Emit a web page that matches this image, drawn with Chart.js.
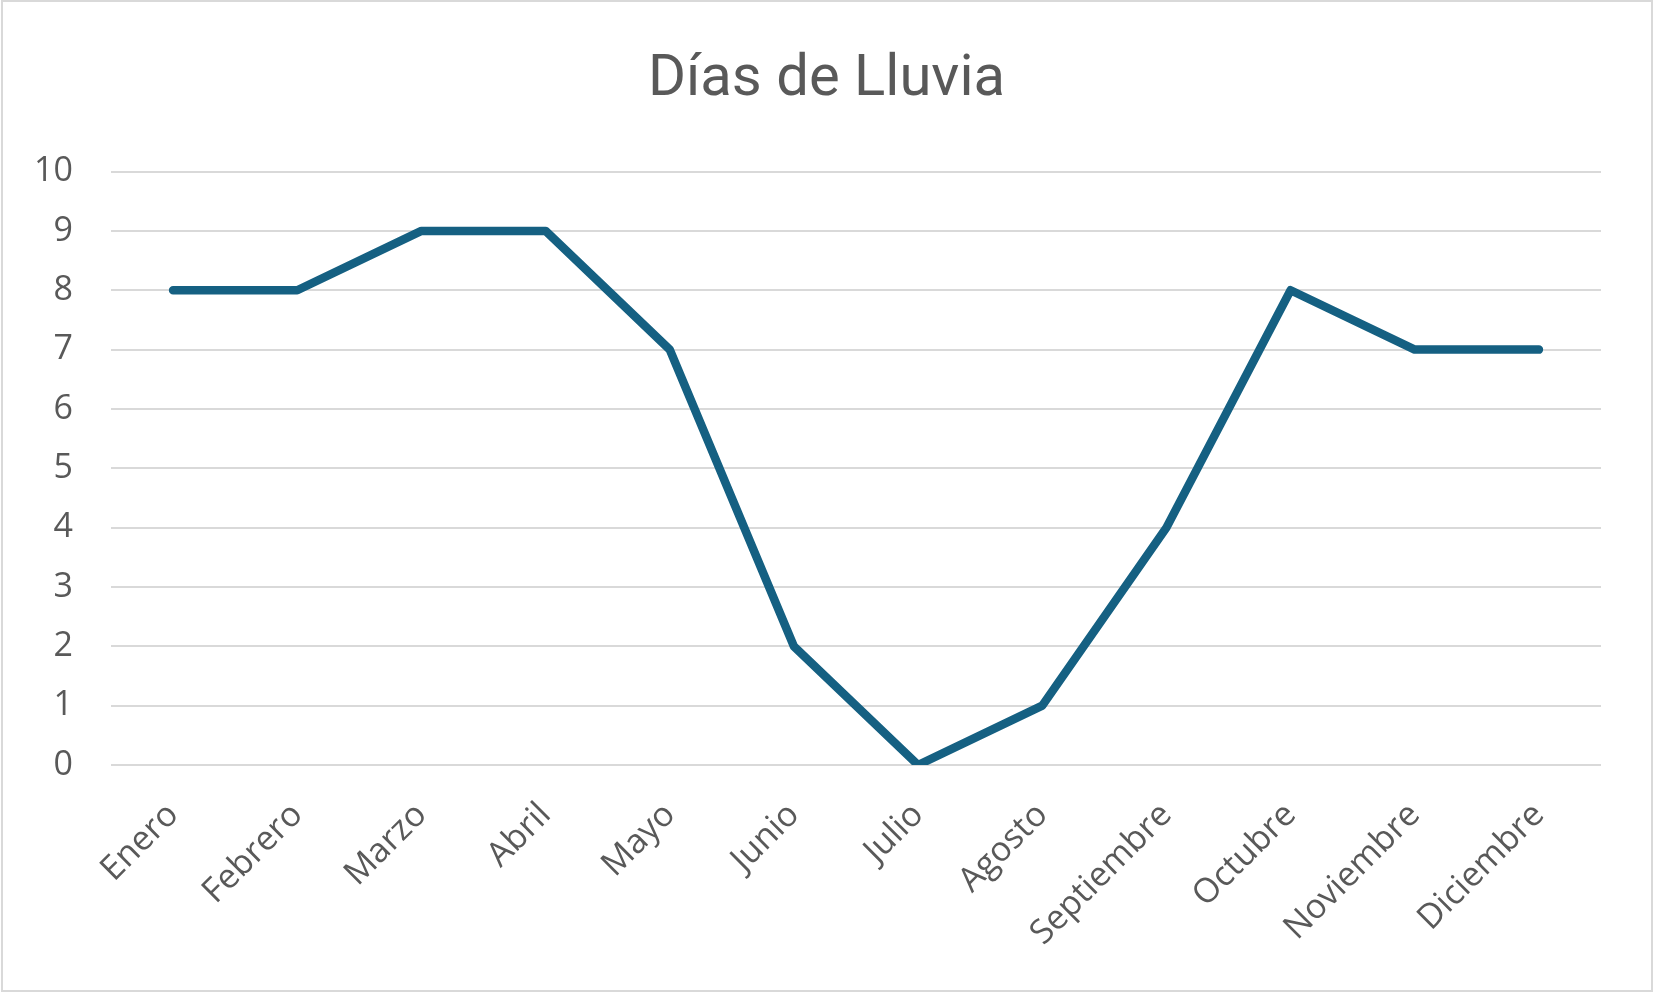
<!DOCTYPE html>
<html lang="es">
<head>
<meta charset="utf-8">
<title>Días de Lluvia</title>
<script src="https://cdn.jsdelivr.net/npm/chart.js@4/dist/chart.umd.min.js"></script>
<style>
    html, body { margin: 0; padding: 0; background: #ffffff; }
    #wrap { width: 1653px; height: 993px; position: relative; }
</style>
</head>
<body>
<div id="wrap"><canvas id="rainChart" width="1653" height="993"></canvas></div>
<script>
// Datos del gráfico
const chartTitle = 'Días de Lluvia';
const months = [
    'Enero', 'Febrero', 'Marzo', 'Abril', 'Mayo', 'Junio',
    'Julio', 'Agosto', 'Septiembre', 'Octubre', 'Noviembre', 'Diciembre'
];
const rainyDays = [8, 8, 9, 9, 7, 2, 0, 1, 4, 8, 7, 7];
const yTicks = [0, 1, 2, 3, 4, 5, 6, 7, 8, 9, 10];

const textColor = '#595959';
const gridColor = '#d9d9d9';
const lineColor = '#156082';

// white background, light grey frame, and title centred on the whole canvas
const framePlugin = {
    id: 'frame',
    afterLayout(chart) {
        const tb = chart.titleBlock;
        if (tb) {
            tb.left = 0;
            tb.right = chart.width;
            tb.width = chart.width;
        }
    },
    beforeDraw(chart) {
        const ctx = chart.ctx;
        ctx.save();
        ctx.fillStyle = '#ffffff';
        ctx.fillRect(0, 0, chart.width, chart.height);
        ctx.restore();
    },
    afterDraw(chart) {
        const ctx = chart.ctx;
        ctx.save();
        ctx.strokeStyle = gridColor;
        ctx.lineWidth = 2;
        ctx.strokeRect(2, 1, chart.width - 3, chart.height - 3);
        ctx.restore();
    }
};

document.addEventListener('DOMContentLoaded', () => {
    const ctx = document.getElementById('rainChart').getContext('2d');
    new Chart(ctx, {
        type: 'line',
        data: {
            labels: months,
            datasets: [{
                label: chartTitle,
                data: rainyDays,
                borderColor: lineColor,
                backgroundColor: lineColor,
                borderWidth: 8.5,
                borderCapStyle: 'round',
                borderJoinStyle: 'round',
                pointRadius: 0,
                tension: 0,
                fill: false
            }]
        },
        options: {
            responsive: false,
            animation: false,
            devicePixelRatio: 1,
            layout: {
                padding: { left: 0, right: 52, top: 0, bottom: 0 }
            },
            plugins: {
                legend: { display: false },
                tooltip: { enabled: false },
                title: {
                    display: true,
                    text: chartTitle,
                    color: textColor,
                    font: { family: 'Roboto', size: 58, weight: 'normal', lineHeight: 1.2 },
                    padding: { top: 46, bottom: 56 }
                }
            },
            scales: {
                x: {
                    offset: true,
                    grid: { display: false, drawTicks: false },
                    border: { display: false },
                    ticks: {
                        color: textColor,
                        font: { family: 'Open Sans', size: 34 },
                        minRotation: 45,
                        maxRotation: 45,
                        autoSkip: false,
                        padding: 30
                    },
                    afterFit(scale) {
                        scale.height = 228;
                    }
                },
                y: {
                    min: 0,
                    max: 10,
                    afterBuildTicks(scale) {
                        scale.ticks = yTicks.map(v => ({ value: v }));
                    },
                    grid: { color: gridColor, lineWidth: 2, drawTicks: false },
                    border: { display: false },
                    ticks: {
                        color: textColor,
                        font: { family: 'Open Sans', size: 34 },
                        padding: 38
                    },
                    afterFit(scale) {
                        scale.width = 111;
                    }
                }
            }
        },
        plugins: [framePlugin]
    });
});
</script>
</body>
</html>
